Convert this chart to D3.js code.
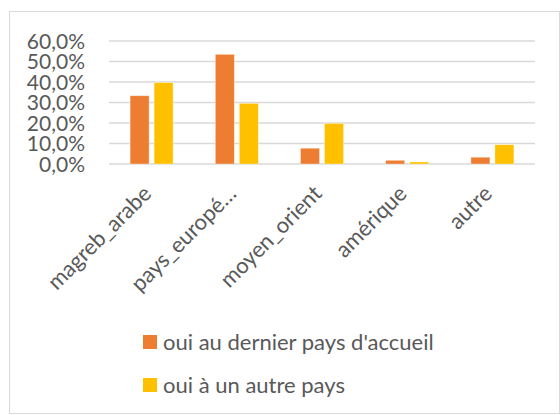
<!DOCTYPE html>
<html>
<head>
<meta charset="utf-8">
<script src="https://cdn.jsdelivr.net/npm/d3@7"></script>
<style>
  body { margin: 0; background: #fff; }
  svg text { font-family: Lato, "Open Sans", sans-serif; fill: #595959; }
</style>
</head>
<body>
<svg id="chart" width="560" height="415"></svg>
<script>
const categories = ["magreb_arabe", "pays_europé…", "moyen_orient", "amérique", "autre"];
const seriesNames = ["oui au dernier pays d'accueil", "oui à un autre pays"];
const dernierPays = [0.333, 0.535, 0.077, 0.018, 0.033];
const autrePays = [0.397, 0.296, 0.198, 0.010, 0.094];
const tickValues = [0, 0.1, 0.2, 0.3, 0.4, 0.5, 0.6];
const colors = ["#ed7d31", "#ffc000"];

const width = 560, height = 415;
const margin = {top: 41, right: 25, bottom: 251, left: 109};
const svg = d3.select('#chart');

// chart area border
svg.append('rect')
  .attr('x', 9.5).attr('y', 11.5)
  .attr('width', width - 10).attr('height', height - 13)
  .attr('fill', 'none').attr('stroke', '#d9d9d9');

const x = d3.scaleBand(categories, [margin.left, width - margin.right]).paddingInner(0).paddingOuter(0);
const y = d3.scaleLinear([0, 0.6], [height - margin.bottom, margin.top]);
const fmt = d => d3.format(".1f")(d * 100).replace('.', ',') + '%';

// gridlines
svg.append('g').selectAll('line').data(tickValues).join('line')
  .attr('x1', margin.left).attr('x2', width - margin.right)
  .attr('y1', d => y(d)).attr('y2', d => y(d))
  .attr('stroke', '#d9d9d9').attr('stroke-width', 1.3);

// y labels
svg.append('g').selectAll('text').data(tickValues).join('text')
  .attr('x', 85).attr('y', d => y(d))
  .attr('dy', '0.36em')
  .attr('text-anchor', 'end')
  .attr('font-size', '21px')
  .text(fmt);

// bars
const data = categories.map((c, i) => ({cat: c, vals: [dernierPays[i], autrePays[i]]}));
const barW = 19, gap = 5;
const groups = svg.append('g').selectAll('g').data(data).join('g')
  .attr('transform', d => `translate(${x(d.cat) + x.bandwidth() / 2},0)`);
groups.selectAll('rect').data(d => d.vals).join('rect')
  .attr('x', (v, j) => j === 0 ? -barW - gap / 2 : gap / 2)
  .attr('width', barW)
  .attr('y', v => y(v))
  .attr('height', v => y(0) - y(v))
  .attr('fill', (v, j) => colors[j])
  .attr('stroke', '#fff').attr('stroke-opacity', 0.5).attr('stroke-width', 0.7);

// category labels
svg.append('g').selectAll('text').data(categories).join('text')
  .attr('transform', d => `translate(${x(d) + x.bandwidth() / 2 + 1},${y(0) + 31}) rotate(-45)`)
  .attr('text-anchor', 'end')
  .attr('font-size', '22px')
  .text(d => d);

// legend
const legend = svg.append('g').selectAll('g').data(seriesNames).join('g')
  .attr('transform', (d, i) => `translate(143,${342 + i * 43})`);
legend.append('rect')
  .attr('x', 0).attr('y', -7).attr('width', 14).attr('height', 14)
  .attr('fill', (d, i) => colors[i]);
legend.append('text')
  .attr('x', 20).attr('dy', '0.36em')
  .attr('font-size', '22px')
  .text(d => d);
</script>
</body>
</html>
